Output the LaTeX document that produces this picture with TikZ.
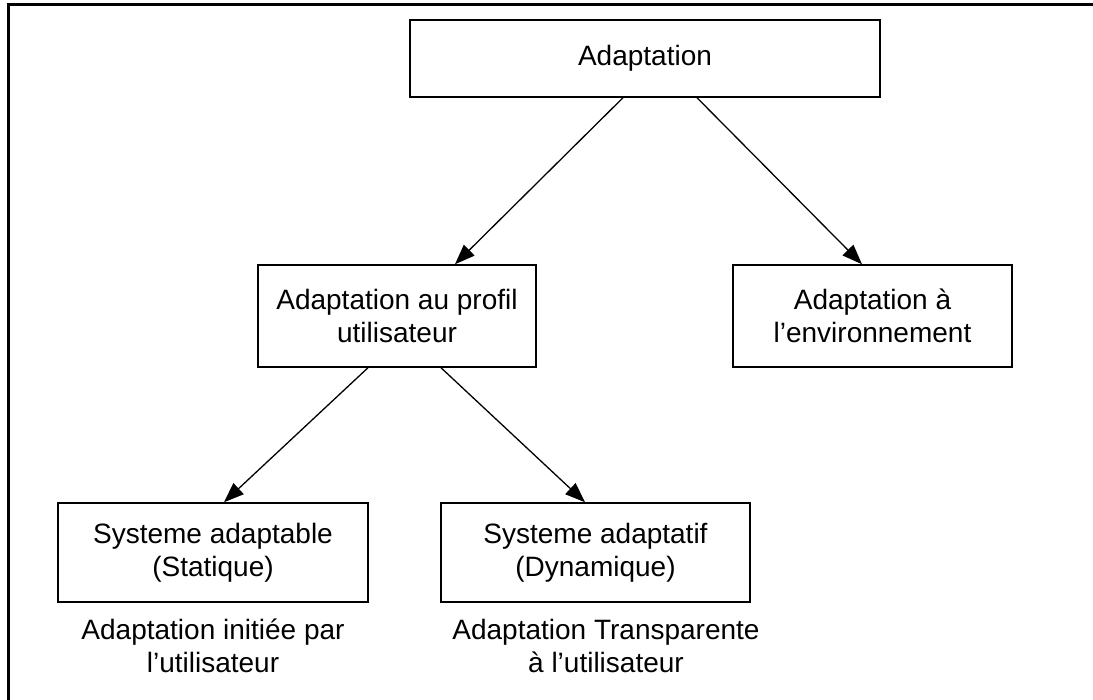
\documentclass[tikz,border=0pt]{standalone}
\usepackage{fontspec}
\setmainfont{Liberation Sans}
\usetikzlibrary{arrows.meta}
\tikzset{
  box/.style={draw=black, line width=1.5pt, fill=white, rectangle, align=center, inner sep=0pt,
    font=\fontsize{28}{33}\selectfont},
  lbl/.style={align=center, inner sep=0pt, font=\fontsize{28}{33}\selectfont},
  arr/.style={line width=1.3pt, -{Triangle[length=20pt,width=15pt]}},
  frame/.style={line width=3pt}
}
\begin{document}
\begin{tikzpicture}[x=1pt,y=-1pt]
\useasboundingbox (0,0) rectangle (1093,700);
\coordinate (f1) at (1093,5);
\coordinate (f2) at (8,5);
\coordinate (f3) at (8,700);
\draw[frame] (f1) -- (f2) -- (f3);
\node[box, minimum width=470pt, minimum height=77pt] (A) at (645,58.5) {Adaptation};
\node[box, minimum width=278pt, minimum height=102pt] (B) at (397,316) {Adaptation au profil\\utilisateur};
\node[box, minimum width=279pt, minimum height=102pt] (C) at (872.5,316) {Adaptation à\\l'environnement};
\node[box, minimum width=310pt, minimum height=99pt] (D) at (213,552.5) {Systeme adaptable\\(Statique)};
\node[box, minimum width=309pt, minimum height=99pt] (E) at (595.5,552.5) {Systeme adaptatif\\(Dynamique)};
\node[lbl] (F) at (213,646) {Adaptation initiée par\\l'utilisateur};
\node[lbl] (G) at (606,646) {Adaptation Transparente\\à l'utilisateur};
\draw[arr] ([xshift=-22pt]A.south) -- ([xshift=58pt]B.north);
\draw[arr] ([xshift=52pt]A.south) -- ([xshift=-10.5pt]C.north);
\draw[arr] ([xshift=-29pt]B.south) -- ([xshift=11pt]D.north);
\draw[arr] ([xshift=44pt]B.south) -- ([xshift=-10.5pt]E.north);
\end{tikzpicture}
\end{document}
